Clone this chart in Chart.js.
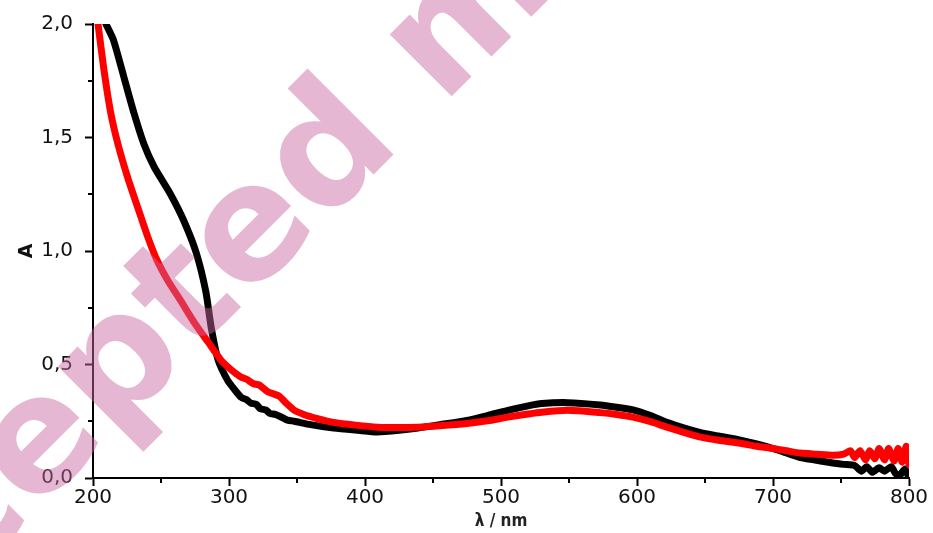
<!DOCTYPE html>
<html>
<head>
<meta charset="utf-8">
<script src="https://cdn.jsdelivr.net/npm/chart.js@4.4.1/dist/chart.umd.min.js"></script>
<style>
  html, body { margin: 0; padding: 0; background: #fff; }
  #wrap { width: 933px; height: 533px; position: relative; }
</style>
</head>
<body>
<div id="wrap"><canvas id="chart"></canvas></div>
<script>
// sample 1 (black)
const blackWavelength = [209.5, 215, 223, 230, 237.5, 245, 257, 267, 276, 283, 287, 292, 299, 304, 309, 313, 316, 320, 323, 327, 330, 334, 338, 343, 348, 360, 377, 395, 409, 425, 439, 455, 475, 490, 505, 520, 530, 549, 573, 585, 597, 610, 622, 635, 647, 660, 676, 688, 700, 710, 720, 732, 744, 752, 760, 765, 769, 773, 778, 782, 787, 790, 793, 797, 800];
const blackAbs = [2.0, 1.93, 1.76, 1.61, 1.47, 1.37, 1.25, 1.13, 0.99, 0.82, 0.66, 0.52, 0.43, 0.39, 0.355, 0.345, 0.33, 0.325, 0.305, 0.30, 0.285, 0.28, 0.27, 0.255, 0.25, 0.235, 0.22, 0.21, 0.203, 0.21, 0.22, 0.235, 0.254, 0.275, 0.298, 0.318, 0.328, 0.332, 0.322, 0.312, 0.30, 0.275, 0.245, 0.22, 0.20, 0.185, 0.167, 0.15, 0.13, 0.11, 0.09, 0.078, 0.066, 0.06, 0.055, 0.03, 0.05, 0.025, 0.045, 0.03, 0.05, 0.02, 0.01, 0.04, 0.0];

// sample 2 (red)
const redWavelength = [203.7, 208, 213, 218.4, 225.7, 233, 240.4, 247, 255, 264.6, 275, 284.5, 294, 301, 308.7, 313, 318, 322, 328.5, 333, 337, 342, 347.6, 355, 365, 377, 393, 409, 425, 439, 455, 475, 490, 505, 520, 530, 549, 573, 585, 597, 610, 622, 635, 647, 660, 676, 688, 700, 710, 720, 732, 744, 752, 757, 760, 764, 768, 771, 775, 778, 782, 785, 789, 792, 795, 798, 800];
const redAbs = [2.0, 1.80, 1.61, 1.47, 1.32, 1.19, 1.06, 0.96, 0.87, 0.78, 0.68, 0.60, 0.52, 0.48, 0.445, 0.435, 0.415, 0.41, 0.38, 0.37, 0.36, 0.33, 0.30, 0.28, 0.262, 0.245, 0.233, 0.224, 0.222, 0.224, 0.23, 0.24, 0.252, 0.268, 0.282, 0.29, 0.298, 0.288, 0.28, 0.268, 0.248, 0.224, 0.20, 0.18, 0.166, 0.153, 0.14, 0.13, 0.12, 0.11, 0.105, 0.10, 0.105, 0.12, 0.09, 0.12, 0.08, 0.12, 0.085, 0.13, 0.08, 0.13, 0.075, 0.13, 0.07, 0.14, 0.06];

const xMinorTicks = [250, 350, 450, 550, 650, 750];
const yMinorTicks = [0.25, 0.75, 1.25, 1.75];

const TICK_FONT = { family: "'DejaVu Sans', 'Liberation Sans', sans-serif", size: 20 };

function pairs(xs, ys) {
  return xs.map((x, i) => ({ x, y: ys[i] }));
}

// short unlabelled ticks between the labelled ones
const minorTicksPlugin = {
  id: 'minorTicks',
  afterDraw(chart) {
    const { ctx, scales: { x, y } } = chart;
    ctx.save();
    ctx.strokeStyle = '#000';
    ctx.lineWidth = 2;
    ctx.beginPath();
    xMinorTicks.forEach((v) => {
      const px = Math.round(x.getPixelForValue(v));
      ctx.moveTo(px, y.bottom);
      ctx.lineTo(px, y.bottom + 5);
    });
    yMinorTicks.forEach((v) => {
      const py = Math.round(y.getPixelForValue(v));
      ctx.moveTo(x.left, py);
      ctx.lineTo(x.left - 5, py);
    });
    ctx.stroke();
    ctx.restore();
  }
};

const watermarkPlugin = {
  id: 'watermark',
  afterDraw(chart) {
    const ctx = chart.ctx;
    const text = 'Accepted manuscript';
    ctx.save();
    ctx.font = "bold 160px 'DejaVu Sans', sans-serif";
    ctx.fillStyle = 'rgba(200,102,160,0.47)';
    ctx.translate(322, 226);
    ctx.rotate(-Math.PI / 4);
    const pre = ctx.measureText('Accepte').width;
    ctx.textBaseline = 'alphabetic';
    ctx.fillText(text, -pre, 0);
    ctx.restore();
  }
};

new Chart(document.getElementById('chart'), {
  type: 'scatter',
  data: {
    datasets: [
      {
        label: 'red',
        data: pairs(redWavelength, redAbs),
        showLine: true,
        borderColor: '#ff0000',
        backgroundColor: '#ff0000',
        borderWidth: 7,
        pointRadius: 0,
        tension: 0.2,
        borderJoinStyle: 'round',
        borderCapStyle: 'round'
      },
      {
        label: 'black',
        data: pairs(blackWavelength, blackAbs),
        showLine: true,
        borderColor: '#000000',
        backgroundColor: '#000000',
        borderWidth: 7,
        pointRadius: 0,
        tension: 0.2,
        borderJoinStyle: 'round',
        borderCapStyle: 'round'
      }
    ]
  },
  options: {
    responsive: true,
    maintainAspectRatio: false,
    animation: false,
    layout: { padding: { top: 22, right: 24, left: 0, bottom: 0 } },
    plugins: {
      legend: { display: false },
      tooltip: { enabled: false }
    },
    scales: {
      x: {
        type: 'linear',
        min: 200,
        max: 800,
        afterFit(scale) { scale.height = 55; },
        ticks: { stepSize: 100, color: '#111', font: TICK_FONT, padding: 0, maxRotation: 0 },
        grid: { drawOnChartArea: false, color: '#000', tickLength: 8, tickWidth: 2 },
        border: { color: '#000', width: 2 },
        title: {
          display: true,
          text: 'λ / nm',
          color: '#222',
          font: { family: "'DejaVu Sans Condensed', 'DejaVu Sans', sans-serif", size: 17, weight: 'bold' },
          padding: 1
        }
      },
      y: {
        min: 0,
        max: 2,
        afterFit(scale) { scale.width = 93; },
        ticks: {
          stepSize: 0.5,
          color: '#111',
          font: TICK_FONT,
          padding: 12,
          callback: (v) => v.toFixed(1).replace('.', ',')
        },
        grid: { drawOnChartArea: false, color: '#000', tickLength: 8, tickWidth: 2 },
        border: { color: '#000', width: 2 },
        title: {
          display: true,
          text: 'A',
          color: '#111',
          font: { family: "'DejaVu Sans', sans-serif", size: 19, weight: 'bold' },
          padding: 16
        }
      }
    }
  },
  plugins: [minorTicksPlugin, watermarkPlugin]
});
</script>
</body>
</html>
